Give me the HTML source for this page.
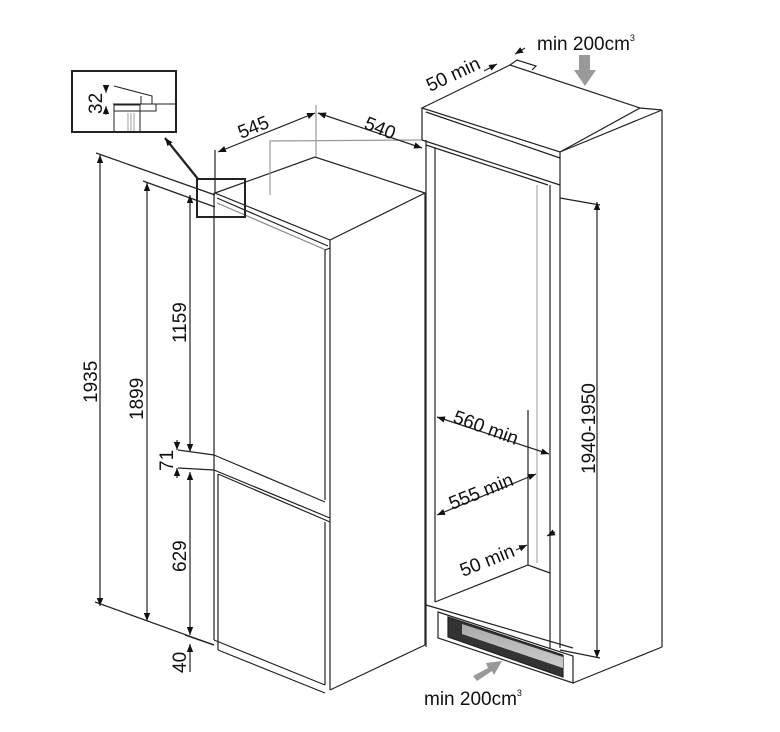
<!DOCTYPE html>
<html><head><style>
html,body{margin:0;padding:0;background:#fff;}
svg{display:block;}
text{font-family:"Liberation Sans",sans-serif;fill:#111;}
</style></head><body>
<svg width="780" height="732" viewBox="0 0 780 732" xmlns="http://www.w3.org/2000/svg">
<defs>
<marker id="a" viewBox="0 0 10 10" refX="10" refY="5" markerWidth="8" markerHeight="8" orient="auto-start-reverse" markerUnits="userSpaceOnUse"><path d="M0,1 L10,5 L0,9 z" fill="#111"/></marker>
<linearGradient id="g" x1="0" y1="0" x2="0" y2="1"><stop offset="0" stop-color="#aaa"/><stop offset="1" stop-color="#ccc"/></linearGradient>
</defs>
<g stroke="#222" stroke-width="1.2" fill="none">
<polygon points="215,193 315,157 425,193 330,240" fill="#fff"/>
<line x1="217" y1="198" x2="328" y2="246"/>
<line x1="217" y1="203" x2="326" y2="250" stroke="#888"/>
<polyline points="330,240 330,248 325,250"/>
<line x1="214" y1="193" x2="214" y2="640"/>
<line x1="325" y1="250" x2="325" y2="500"/>
<line x1="330" y1="248" x2="330" y2="690"/>
<line x1="425" y1="193" x2="425" y2="645"/>
<line x1="330" y1="690" x2="425" y2="645"/>
<line x1="214" y1="455" x2="325" y2="502"/>
<line x1="214" y1="470" x2="330" y2="518"/>
<line x1="218" y1="474" x2="330" y2="522"/>
<line x1="218" y1="474" x2="218" y2="650"/>
<line x1="325" y1="522" x2="325" y2="685"/>
<line x1="214" y1="640" x2="325" y2="685"/>
<line x1="218" y1="650" x2="325" y2="693"/>
<polyline points="270,195 270,141 422,140" stroke="#999"/>
<line x1="316" y1="105" x2="316" y2="157" stroke="#999"/>
<line x1="215" y1="150" x2="215" y2="193"/>
<line x1="218" y1="152" x2="315" y2="113" marker-start="url(#a)" marker-end="url(#a)"/>
<line x1="318" y1="113" x2="422" y2="148" marker-start="url(#a)" marker-end="url(#a)"/>
<line x1="96" y1="153" x2="215" y2="195"/>
<line x1="143" y1="181" x2="215" y2="207"/>
<line x1="100" y1="155" x2="100" y2="606" marker-start="url(#a)" marker-end="url(#a)"/>
<line x1="147" y1="183" x2="147" y2="621" marker-start="url(#a)" marker-end="url(#a)"/>
<line x1="190" y1="195" x2="190" y2="452" marker-start="url(#a)" marker-end="url(#a)"/>
<line x1="178" y1="450" x2="214" y2="455"/>
<line x1="178" y1="468" x2="214" y2="470"/>
<line x1="177" y1="440" x2="177" y2="450" marker-end="url(#a)"/>
<line x1="177" y1="478" x2="177" y2="468" marker-end="url(#a)"/>
<line x1="190" y1="472" x2="190" y2="635" marker-start="url(#a)" marker-end="url(#a)"/>
<line x1="95" y1="602" x2="214" y2="645"/>
<line x1="185" y1="635" x2="214" y2="645"/>
<line x1="190" y1="672" x2="190" y2="644" marker-end="url(#a)"/>
<rect x="72" y="71" width="104" height="61" stroke-width="2"/>
<rect x="197" y="179" width="48" height="38" stroke-width="2"/>
<line x1="198" y1="179" x2="165" y2="138" stroke-width="2.2" marker-end="url(#a)"/>
<polyline points="114,86 152,96 152,104 176,104" stroke-width="1"/>
<polyline points="113,104 141,104 141,96" stroke-width="1"/>
<rect x="114" y="104" width="42" height="7" stroke-width="1" fill="none"/>
<polyline points="114,131 114,105 140,105 140,131" stroke-width="1"/>
<line x1="128" y1="113" x2="128" y2="131" stroke-width="0.8" stroke="#888"/>
<line x1="131" y1="113" x2="131" y2="131" stroke-width="0.8" stroke="#888"/>
<line x1="134" y1="113" x2="134" y2="131" stroke-width="0.8" stroke="#888"/>
<line x1="106" y1="85" x2="106" y2="93" marker-end="url(#a)" stroke-width="1"/>
<line x1="106" y1="115" x2="106" y2="106" marker-end="url(#a)" stroke-width="1"/>
<polygon points="422,108 510,65 640,108 560,152" fill="#fff"/>
<polyline points="640,108 662,110 560,152"/>
<line x1="426" y1="112" x2="560" y2="158"/>
<line x1="422" y1="108" x2="422" y2="140"/>
<line x1="560" y1="152" x2="560" y2="185"/>
<line x1="422" y1="140" x2="560" y2="185"/>
<line x1="426" y1="145" x2="548" y2="185"/>
<polyline points="510,65 517,60 536,66 532,70"/>
<line x1="426" y1="140" x2="426" y2="647"/>
<line x1="435" y1="148" x2="435" y2="602"/>
<line x1="550" y1="185" x2="550" y2="657"/>
<line x1="560" y1="185" x2="560" y2="648"/>
<line x1="537" y1="185" x2="537" y2="563" stroke="#aaa"/>
<line x1="528" y1="410" x2="528" y2="565"/>
<line x1="662" y1="110" x2="662" y2="647"/>
<line x1="662" y1="647" x2="573" y2="683"/>
<polyline points="435,602 528,565 550,573"/>
<line x1="426" y1="605" x2="573" y2="648"/>
<polygon points="438,612 573,656 573,683 438,638" fill="#fff"/>
<polygon points="448,617 563,655 563,677 448,637" fill="#333"/>
<polygon points="462,624 563,657 563,668 462,634" fill="url(#g)" stroke="none"/>
<line x1="560" y1="198" x2="600" y2="205"/>
<line x1="560" y1="650" x2="600" y2="658"/>
<line x1="597" y1="202" x2="597" y2="658" marker-start="url(#a)" marker-end="url(#a)"/>
<line x1="437" y1="417" x2="549" y2="454" marker-start="url(#a)" marker-end="url(#a)"/>
<line x1="437" y1="515" x2="536" y2="474" marker-start="url(#a)" marker-end="url(#a)"/>
<line x1="516" y1="550" x2="527" y2="545" marker-end="url(#a)"/>
<line x1="555" y1="532" x2="547" y2="536" marker-end="url(#a)"/>
<line x1="484" y1="71" x2="497" y2="64" marker-end="url(#a)"/>
<line x1="525" y1="48" x2="515" y2="54" marker-end="url(#a)"/>
</g>
<polygon points="579,55 590,55 590,70 596,70 585,86 574,70 579,70" fill="#999"/>
<polygon points="473,676 488,668 486,663 502,661 494,675 492,671 477,681" fill="#999"/>
<g font-size="19">
<text x="537" y="50">min 200cm<tspan font-size="9" dy="-9">3</tspan></text>
<text x="424" y="705">min 200cm<tspan font-size="9" dy="-9">3</tspan></text>
<text transform="translate(430,92) rotate(-25)">50 min</text>
<text transform="translate(241,139) rotate(-22)">545</text>
<text transform="translate(363,128) rotate(22)">540</text>
<text transform="translate(452,422) rotate(20)">560 min</text>
<text transform="translate(452,510) rotate(-22)">555 min</text>
<text transform="translate(463,577) rotate(-22)">50 min</text>
<text transform="translate(595,474) rotate(-90)">1940-1950</text>
<text transform="translate(97,403) rotate(-90)">1935</text>
<text transform="translate(143,420) rotate(-90)">1899</text>
<text transform="translate(186,343) rotate(-90)">1159</text>
<text transform="translate(173,471) rotate(-90)">71</text>
<text transform="translate(186,572) rotate(-90)">629</text>
<text transform="translate(186,673) rotate(-90)">40</text>
<text transform="translate(102,114) rotate(-90)">32</text>
</g>
</svg>
</body></html>
